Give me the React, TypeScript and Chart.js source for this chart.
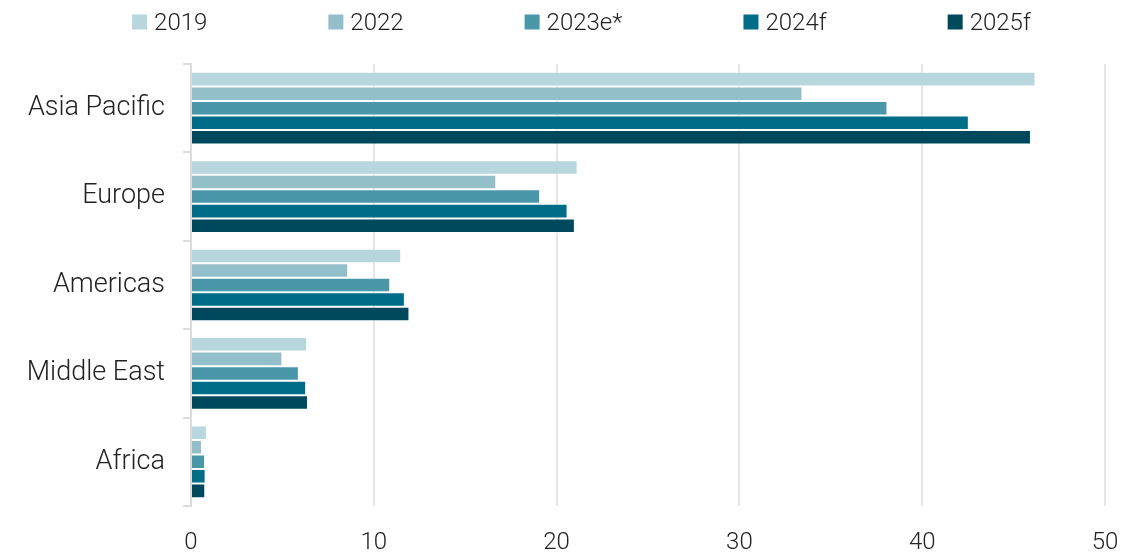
import React, { useEffect, useRef } from 'react';
import { Chart, registerables } from 'chart.js';

Chart.register(...registerables);

const categories = ['Asia Pacific', 'Europe', 'Americas', 'Middle East', 'Africa'];
const seriesLabels = ['2019', '2022', '2023e*', '2024f', '2025f'];
const values2019 = [46.2, 21.15, 11.5, 6.35, 0.87];
const values2022 = [33.45, 16.7, 8.6, 5.0, 0.6];
const values2023 = [38.1, 19.1, 10.9, 5.9, 0.77];
const values2024 = [42.55, 20.6, 11.7, 6.3, 0.8];
const values2025 = [45.95, 21.0, 11.95, 6.4, 0.78];
const seriesColors = ['#b7d6dd', '#93bfcb', '#4a97aa', '#006d88', '#00495c'];
const xMin = 0;
const xMax = 50;
const xStep = 10;

const FONT = 'Roboto';
const TEXT = '#222222';

const topLegend = {
  id: 'topLegend',
  afterDraw(chart: any) {
    const ctx = chart.ctx as CanvasRenderingContext2D;
    ctx.save();
    ctx.font = `300 24px ${FONT}`;
    const box = 15;
    const gap = 7;
    const spacing = 121;
    const items = chart.data.datasets.map((ds: any) => ({
      text: ds.label as string,
      color: ds.backgroundColor as string,
      w: ctx.measureText(ds.label).width,
    }));
    const total =
      items.reduce((s: number, it: any) => s + box + gap + it.w, 0) + spacing * (items.length - 1);
    let x = chart.width / 2 + 9 - total / 2;
    ctx.textBaseline = 'middle';
    ctx.textAlign = 'left';
    items.forEach((it: any) => {
      ctx.fillStyle = it.color;
      ctx.fillRect(x, 14.5, box, box);
      ctx.fillStyle = TEXT;
      ctx.fillText(it.text, x + box + gap, 24);
      x += box + gap + it.w + spacing;
    });
    ctx.restore();
  },
};

export default function App() {
  const ref = useRef<HTMLCanvasElement | null>(null);

  useEffect(() => {
    if (!ref.current) return;
    const seriesValues = [values2019, values2022, values2023, values2024, values2025];
    const chart = new Chart(ref.current, {
      type: 'bar',
      data: {
        labels: categories,
        datasets: seriesLabels.map((label, i) => ({
          label,
          data: seriesValues[i],
          backgroundColor: seriesColors[i],
          borderColor: 'rgba(255,255,255,0.45)',
          borderWidth: 1,
          barPercentage: 1,
          categoryPercentage: 0.822,
        })),
      },
      options: {
        indexAxis: 'y',
        animation: false,
        responsive: false,
        devicePixelRatio: 1,
        layout: { padding: { top: 64, right: 40, left: 0, bottom: 0 } },
        plugins: {
          legend: { display: false },
          tooltip: { enabled: false },
        },
        scales: {
          y: {
            type: 'category',
            grid: {
              drawOnChartArea: false,
              drawTicks: true,
              tickLength: 8,
              color: '#dcdcdc',
              lineWidth: 2,
              offset: true,
            },
            border: { display: true, color: '#dcdcdc', width: 2 },
            ticks: {
              padding: 18,
              color: TEXT,
              font: { family: FONT, size: 27, weight: '300' as any },
            },
            afterFit: (s: any) => {
              s.width = 191;
            },
          },
          x: {
            type: 'linear',
            min: xMin,
            max: xMax,
            ticks: {
              stepSize: xStep,
              padding: 23,
              color: TEXT,
              font: { family: FONT, size: 24, weight: '300' as any },
            },
            grid: { color: '#e6e6e6', lineWidth: 2, drawTicks: false },
            border: { display: false },
            afterFit: (s: any) => {
              s.height = 48;
            },
          },
        },
      },
      plugins: [topLegend],
    });
    return () => chart.destroy();
  }, []);

  return (
    <div
      style={{
        position: 'fixed',
        left: 0,
        top: 0,
        width: 1145,
        height: 554,
        background: '#ffffff',
      }}
    >
      <canvas ref={ref} width={1145} height={554} style={{ display: 'block' }} />
    </div>
  );
}
